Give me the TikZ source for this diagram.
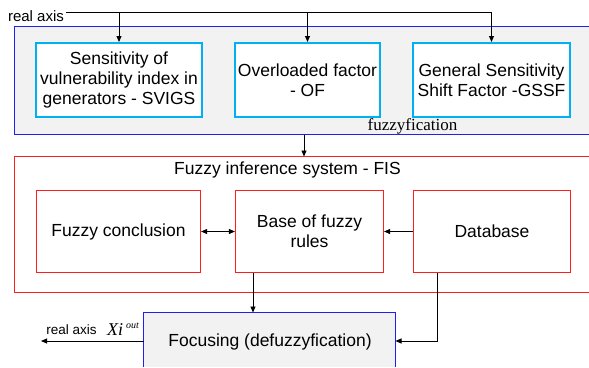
\documentclass[tikz,border=0pt]{standalone}
\usepackage{fontspec}
\setmainfont{Liberation Sans}
\newfontfamily\serifrm{Liberation Serif}
\usetikzlibrary{arrows.meta}
\definecolor{frameblue}{RGB}{30,30,245}
\definecolor{boxcyan}{RGB}{0,176,240}
\definecolor{framered}{RGB}{255,30,30}
\definecolor{panel}{RGB}{242,242,242}
\tikzset{
  txt/.style={font=\fontsize{17.5}{20}\selectfont, align=center, inner sep=0pt},
  inbox/.style={txt, draw=boxcyan, line width=2pt, fill=white},
  rulebox/.style={txt, draw=framered, line width=1.2pt, fill=white},
  panelfill/.style={inner sep=0pt, outer sep=0pt},
  blueedge/.style={draw=frameblue, line width=1.2pt},
  rededge/.style={draw=framered, line width=1.2pt},
  flow/.style={line width=0.9pt, -{Triangle[length=6pt,width=5pt]}},
  wire/.style={line width=0.9pt},
}
\begin{document}
\begin{tikzpicture}[x=1pt, y=-1pt]
\useasboundingbox (0,0) rectangle (589,367);

% fuzzification panel, open on the right
\node[panelfill, fill=panel, minimum width=574.5pt, minimum height=108pt] (fz) at (301.75,80.5) {};
\draw[blueedge] (fz.north east) -- (fz.north west) -- (fz.south west) -- (fz.south east);

% the three inputs
\node[inbox, minimum width=166pt, minimum height=74pt] (s1) at (119,80) {Sensitivity of\\vulnerability index in\\generators - SVIGS};
\node[inbox, minimum width=145pt, minimum height=74pt] (s2) at (307.5,80) {Overloaded factor\\- OF};
\node[inbox, minimum width=157pt, minimum height=74pt] (s3) at (491.5,80) {General Sensitivity\\Shift Factor -GSSF};
\node[font=\serifrm\fontsize{17}{20}\selectfont, inner sep=0pt] (fzlbl) at (412.5,126) {fuzzyfication};

% input axis
\node[font=\fontsize{15}{17}\selectfont, inner sep=0pt] (ax) at (36,16) {real axis};
\coordinate (ain) at (66,12);
\draw[wire] (ain) -- (ain -| s3.north);
\draw[flow] (ain -| s1.north) -- (s1.north);
\draw[flow] (ain -| s2.north) -- (s2.north);
\draw[flow] (ain -| s3.north) -- (s3.north);

% fuzzy inference system, open on the right
\node[panelfill, minimum width=574.5pt, minimum height=136pt] (fis) at (301.75,224.5) {};
\draw[rededge] (fis.north east) -- (fis.north west) -- (fis.south west) -- (fis.south east);
\node[txt] (fislbl) at (287.5,170) {Fuzzy inference system - FIS};
\node[rulebox, minimum width=164pt, minimum height=82pt] (conc) at (118.5,231.5) {Fuzzy conclusion};
\node[rulebox, minimum width=148pt, minimum height=82pt] (base) at (309.5,231.5) {Base of fuzzy\\rules};
\node[rulebox, minimum width=157pt, minimum height=82pt] (db) at (492,231.5) {Database};

\coordinate (mid) at (304,0);
\draw[flow] (fz.south -| mid) -- (fis.north -| mid);
\draw[line width=0.9pt, {Triangle[length=6pt,width=5pt]}-{Triangle[length=6pt,width=5pt]}] (conc.east) -- (base.west);
\draw[flow] (db.west) -- (base.east);

% defuzzification, open at the bottom
\node[panelfill, fill=panel, minimum width=252pt, minimum height=54.5pt] (foc) at (269.5,339.75) {};
\draw[blueedge] (foc.south west) -- (foc.north west) -- (foc.north east) -- (foc.south east);
\node[txt] (foclbl) at (270,341.5) {Focusing (defuzzyfication)};
\coordinate (bx) at (253,0);
\coordinate (dx) at (437,0);
\coordinate (fy) at (0,341);
\draw[flow] (base.south -| bx) -- (foc.north -| bx);
\draw[flow] (db.south -| dx) |- (foc.east |- fy);

% output
\coordinate (aout) at (41,341);
\draw[flow] (foc.west |- fy) -- (aout);
\node[font=\fontsize{13.5}{16}\selectfont, inner sep=0pt] (axo) at (71.5,330) {real axis};
\node[font=\serifrm\fontsize{18}{20}\selectfont, inner sep=0pt, anchor=base west] (xo) at (107,335) {\textit{Xi}\,\raisebox{7pt}{\fontsize{10}{12}\selectfont\textit{out}}};
\end{tikzpicture}
\end{document}
